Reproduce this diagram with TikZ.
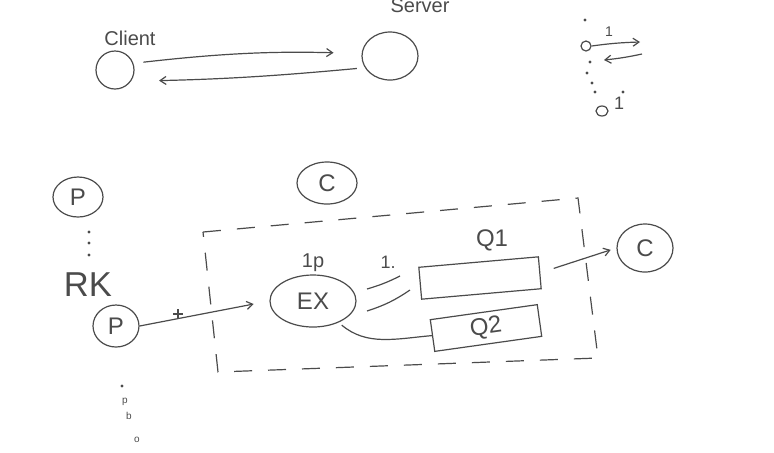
\documentclass[tikz,border=0pt]{standalone}
\usepackage{fontspec}
\setmainfont{Liberation Sans}
\usetikzlibrary{positioning, arrows.meta, shapes.geometric}
\definecolor{pencil}{RGB}{75,75,75}

\begin{document}
\begin{tikzpicture}[
  x=0.5pt, y=-0.5pt,
  pen/.style={draw=pencil, line width=0.6pt},
  ball/.style={pen, ellipse, inner sep=0pt, text=pencil, font=\large},
  queue/.style={pen, rectangle, inner sep=0pt, minimum height=16pt, text=pencil, font=\large},
  lbl/.style={text=pencil, inner sep=1pt},
  dot/.style={circle, fill=pencil, inner sep=0pt, minimum size=1.6pt},
  >={Straight Barb[length=3pt, width=4pt]},
]
\useasboundingbox (0,0) rectangle (774,452);

% client and server
\node[ball, minimum width=19pt, minimum height=19pt] (cli) at (115,70) {};
\node[ball, minimum width=28pt, minimum height=24pt] (srv) at (390,56) {};
\node[lbl] (clil) at (130,38) {Client};
\node[lbl] (srvl) at (420,6) {Server};
\draw[pen,->, shorten <=5pt, shorten >=14pt] (cli.20) to[bend left=4] (srv.175);
\draw[pen,->, shorten <=4pt, shorten >=14pt] (srv.205) to[bend left=2] (cli.-35);

% small sketch top right
\node[pen, circle, inner sep=0pt, minimum size=5pt] (o1) at (586,46) {};
\node[pen, ellipse, inner sep=0pt, minimum width=6pt, minimum height=5pt] (o2) at (602,111) {};
\node[lbl, font=\scriptsize] (o1l) at (609,32) {1};
\node[lbl, font=\small] (o2l) at (619,103) {1};
\coordinate (o1r) at (640,42);
\coordinate (o1b) at (642,54);
\coordinate (o1c) at (604,60);
\draw[pen,->] (o1.east) to[bend left=3] (o1r);
\draw[pen,->] (o1b) to[bend left=3] (o1c);
\foreach \dx/\dy in {585/20, 590/62, 587/73, 592/83, 595/92, 623/92}
  \node[dot] at (\dx,\dy) {};

% producers
\node[ball, minimum width=25pt, minimum height=20pt] (p1) at (78,197) {P};
\node[ball, minimum width=23pt, minimum height=21pt] (p2) at (116,326) {P};
\foreach \dy in {232,243,255}
  \node[dot] at (89,\dy) {};
\node[lbl, font=\LARGE] (rk) at (88,285) {RK};
\node[dot] at (122,386) {};
\foreach \dx/\dy/\t in {125/402/p, 129/416/b, 137/440/o}
  \node[lbl, font=\tiny] at (\dx,\dy) {\t};

% broker
\node[ball, minimum width=30pt, minimum height=21pt] (c1) at (327,183) {C};
\coordinate (d1) at (203,232);
\coordinate (d2) at (578,198);
\coordinate (d3) at (598,358);
\coordinate (d4) at (218,372);
\draw[pen, dash pattern=on 9pt off 8pt] (d1) -- (d2) -- (d3) -- (d4) -- cycle;

\node[ball, minimum width=43pt, minimum height=26pt] (ex) at (313,301) {EX};
\node[lbl, above=0pt of ex] (exl) {1p};
\node[queue, minimum width=60pt, rotate=5] (q1) at (480,278) {};
\node[queue, minimum width=54pt, rotate=8] (q2) at (486,328) {Q2};
\node[lbl, font=\large] (q1l) at (492,240) {Q1};
\node[lbl, font=\small] (bl) at (388,262) {1.};
\node[ball, minimum width=28pt, minimum height=24pt] (c2) at (645,248) {C};

\draw[pen,->, shorten >=8pt] (p2.east) -- (ex.west);
\draw[pen] (178,309) -- (178,319) (173,314) -- (183,314);
% binding strokes
\draw[pen] (367,289) to[bend right=5] (400,276);
\draw[pen] (367,311) to[bend right=8] (410,290);
\draw[pen, shorten <=2pt] (ex.-40) to[out=-40, in=185] (q2.west);
\draw[pen,->, shorten <=7pt, shorten >=3pt] (q1.east) -- (c2.west);
\end{tikzpicture}
\end{document}
